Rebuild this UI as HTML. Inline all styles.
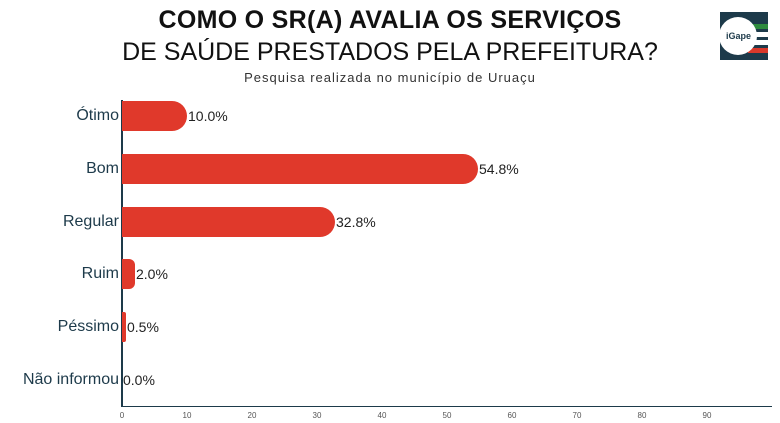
<!DOCTYPE html>
<html><head><meta charset="utf-8"><style>
body{margin:0;width:780px;height:423px;background:#fff;overflow:hidden;font-family:"Liberation Sans",sans-serif;position:relative}
.t{position:absolute;left:0;width:780px;text-align:center;color:#111}
.lab{position:absolute;right:661px;font-size:16px;color:#1d3a4a;text-align:right;white-space:nowrap}
.bar{position:absolute;left:122px;height:30px;background:#e0392b;border-radius:0 15px 15px 0}
.val{position:absolute;font-size:14px;color:#222}
.tk{position:absolute;top:411px;font-size:8px;color:#555;transform:translateX(-50%)}
</style></head><body>
<div class="t" style="top:6px;font-size:25px;font-weight:bold;letter-spacing:0.3px">COMO O SR(A) AVALIA OS SERVIÇOS</div>
<div class="t" style="top:38px;font-size:25px">DE SAÚDE PRESTADOS PELA PREFEITURA?</div>
<div class="t" style="top:70px;font-size:13px;letter-spacing:1px;color:#333">Pesquisa realizada no município de Uruaçu</div>
<svg style="position:absolute;left:718px;top:10px" width="52" height="52" viewBox="0 0 52 52">
<rect x="2" y="2" width="48" height="48" fill="#1d3a4a"/>
<rect x="30" y="14" width="20" height="5" fill="#2e8b3e"/>
<rect x="30" y="22" width="20" height="5" fill="#fff"/>
<rect x="30" y="30" width="20" height="5" fill="#fff"/>
<rect x="30" y="38" width="20" height="5" fill="#d9392b"/>
<circle cx="20" cy="26" r="19" fill="#fff"/>
<text x="8" y="29" font-size="9" font-weight="bold" fill="#1d3a4a" font-family="Liberation Sans">iGape</text>
</svg>
<div style="position:absolute;left:121px;top:100px;width:2px;height:307px;background:#1d3a4a"></div>
<div style="position:absolute;left:122px;top:406px;width:650px;height:1px;background:#1d3a4a"></div>

<div class="lab" style="top:107px">Ótimo</div>
<div class="bar" style="top:101px;width:65px"></div><div class="val" style="left:188px;top:108px">10.0%</div>
<div class="lab" style="top:160px">Bom</div>
<div class="bar" style="top:154px;width:356px"></div><div class="val" style="left:479px;top:161px">54.8%</div>
<div class="lab" style="top:213px">Regular</div>
<div class="bar" style="top:207px;width:213px"></div><div class="val" style="left:336px;top:214px">32.8%</div>
<div class="lab" style="top:265px">Ruim</div>
<div class="bar" style="top:259px;width:13px;border-radius:0 6px 6px 0"></div><div class="val" style="left:136px;top:266px">2.0%</div>
<div class="lab" style="top:318px">Péssimo</div>
<div class="bar" style="top:312px;width:4px;border-radius:0 2px 2px 0"></div><div class="val" style="left:127px;top:319px">0.5%</div>
<div class="lab" style="top:371px">Não informou</div>
<div class="val" style="left:123px;top:372px">0.0%</div>

<div class="tk" style="left:122px">0</div><div class="tk" style="left:187px">10</div><div class="tk" style="left:252px">20</div><div class="tk" style="left:317px">30</div><div class="tk" style="left:382px">40</div><div class="tk" style="left:447px">50</div><div class="tk" style="left:512px">60</div><div class="tk" style="left:577px">70</div><div class="tk" style="left:642px">80</div><div class="tk" style="left:707px">90</div>
</body></html>
